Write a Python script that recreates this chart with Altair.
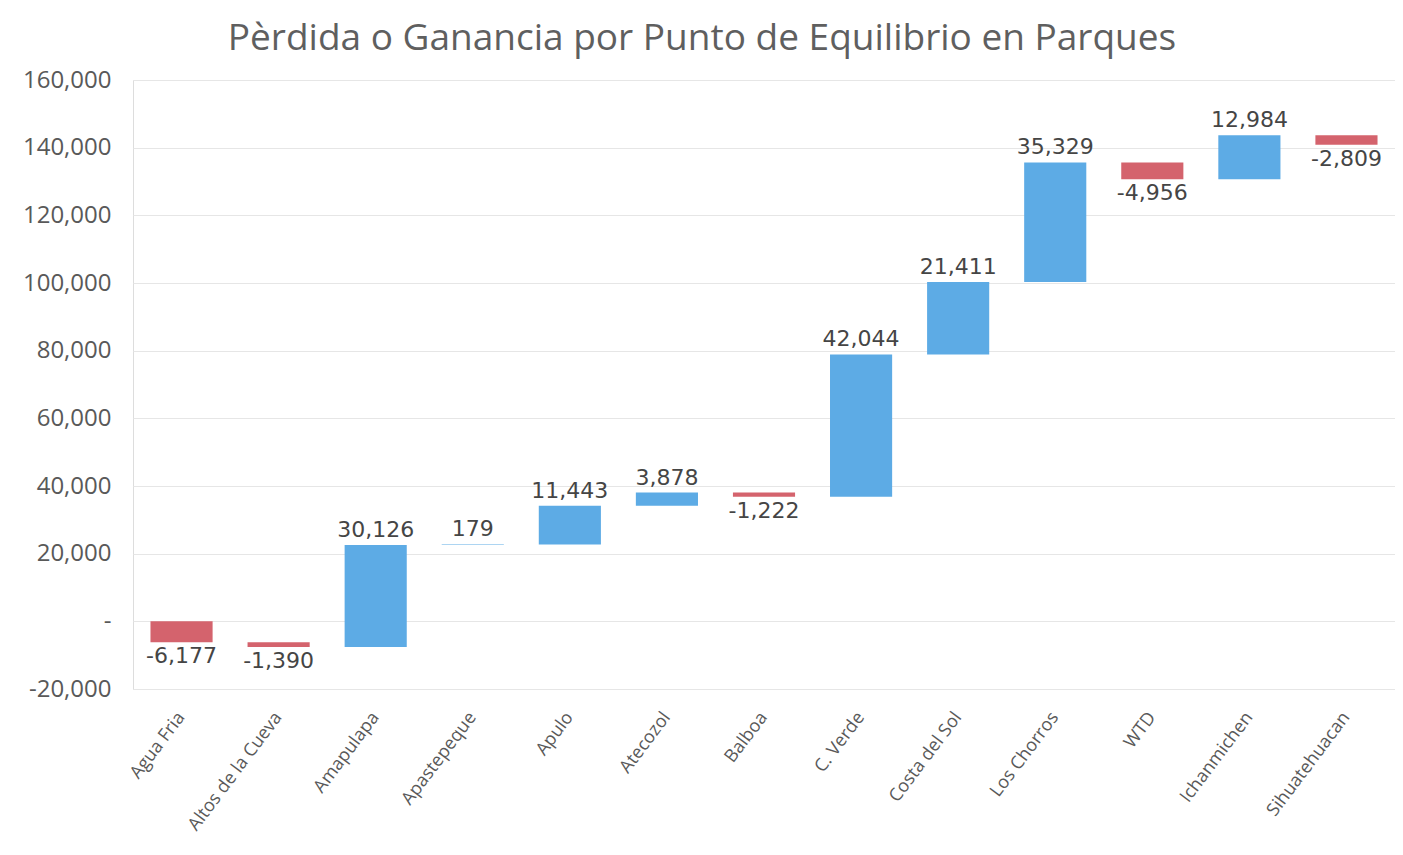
import altair as alt
import pandas as pd

parques = ["Agua Fria", "Altos de la Cueva", "Amapulapa", "Apastepeque", "Apulo",
           "Atecozol", "Balboa", "C. Verde", "Costa del Sol", "Los Chorros",
           "WTD", "Ichanmichen", "Sihuatehuacan"]
valores = [-6177, -1390, 30126, 179, 11443, 3878, -1222, 42044, 21411, 35329,
           -4956, 12984, -2809]
y_ticks = [-20000, 0, 20000, 40000, 60000, 80000, 100000, 120000, 140000, 160000]

df = pd.DataFrame({"parque": parques, "valor": valores, "orden": range(len(parques))})

base = alt.Chart(df).transform_window(
    fin="sum(valor)", sort=[alt.SortField("orden")], frame=[None, 0]
).transform_calculate(
    inicio="datum.fin - datum.valor",
    signo="datum.valor >= 0 ? 'pos' : 'neg'",
    etiqueta="replace(format(datum.valor, ','), '\u2212', '-')",
)

x_enc = alt.X("parque:N", sort=parques, title=None,
              scale=alt.Scale(paddingInner=0.36, paddingOuter=0.18),
              axis=alt.Axis(labelAngle=-53, labelFontSize=18, labelColor="#595959",
                            labelFont="Open Sans", labelPadding=25, ticks=False,
                            domain=False, grid=False, labelOverlap=False))

bars = base.mark_bar().encode(
    x=x_enc,
    y=alt.Y("inicio:Q", title=None,
            scale=alt.Scale(domain=[-20000, 160000], nice=False),
            axis=alt.Axis(values=y_ticks, labelFontSize=24, labelColor="#595959",
                          labelFont="Open Sans", ticks=False, domain=False,
                          gridColor="#e6e6e6", labelPadding=22,
                          labelExpr="datum.value == 0 ? '-' : replace(format(datum.value, ','), '\u2212', '-')")),
    y2="fin:Q",
    color=alt.Color("signo:N", scale=alt.Scale(domain=["pos", "neg"],
                                                range=["#5DABE5", "#D4636D"]),
                    legend=None),
)

lbl_pos = base.transform_filter("datum.valor >= 0").mark_text(
    baseline="bottom", dy=-3, fontSize=22, font="DejaVu Sans", color="#454545"
).encode(x=alt.X("parque:N", sort=parques), y="fin:Q", text="etiqueta:N")

lbl_neg = base.transform_filter("datum.valor < 0").mark_text(
    baseline="top", dy=4, fontSize=22, font="DejaVu Sans", color="#454545"
).encode(x=alt.X("parque:N", sort=parques), y="fin:Q", text="etiqueta:N")

chart = alt.layer(bars, lbl_pos, lbl_neg).properties(
    width=1262, height=609,
    title=alt.TitleParams("Pèrdida o Ganancia por Punto de Equilibrio en Parques",
                          fontSize=37, font="Open Sans", fontWeight="normal",
                          color="#5f5f5f", anchor="middle", offset=10, dx=-62),
    autosize=alt.AutoSizeParams(type="none"),
    padding={"left": 125, "top": 72, "right": 0, "bottom": 158},
).configure_view(strokeWidth=0).configure(background="white")

chart.save("out.html", embed_options={"renderer": "svg", "actions": False})
